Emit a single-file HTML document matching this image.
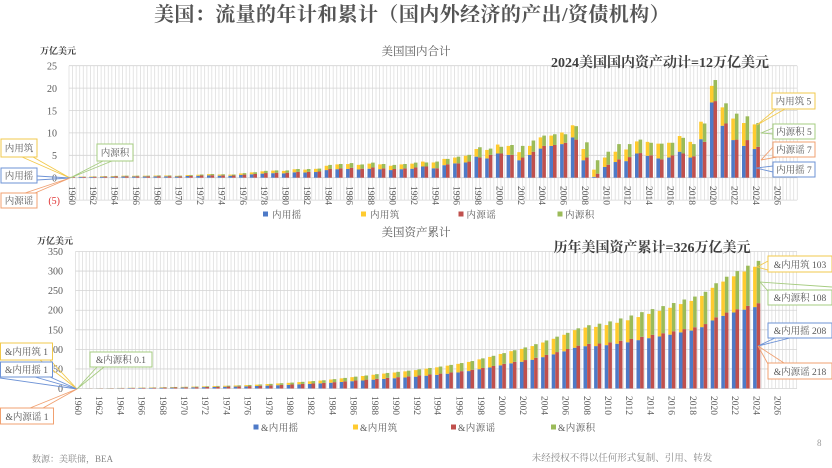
<!DOCTYPE html>
<html><head><meta charset="utf-8">
<style>
html,body{margin:0;padding:0;background:#fff;}
svg{display:block;}
text{font-family:"Liberation Serif","Noto Serif CJK SC",serif;fill:#595959;}
.yl text{font-size:9.5px;dominant-baseline:central;}
.ax{font-size:10px;text-anchor:end;}
.cl{font-size:9.5px;text-anchor:middle;}
.lg{font-size:9.5px;letter-spacing:0.4px;}
</style></head>
<body>
<svg id="s" width="832" height="468" viewBox="0 0 832 468" xmlns="http://www.w3.org/2000/svg">
<g id="grid"></g>
<g id="bars"></g>

<!-- Title -->
<text x="412" y="21" text-anchor="middle" style="font-size:20px;font-weight:bold;fill:#555;letter-spacing:0.4px;">美国：流量的年计和累计（国内外经济的产出/资债机构）</text>

<!-- Top chart texts -->
<text x="40" y="54" style="font-size:9px;font-weight:bold;fill:#404040;">万亿美元</text>
<text x="416" y="55" text-anchor="middle" style="font-size:11.5px;">美国国内合计</text>
<text x="660" y="67" text-anchor="middle" style="font-size:14px;font-weight:bold;fill:#404040;">2024美国国内资产动计=12万亿美元</text>

<g class="ax">
<text x="57" y="69.5">25</text>
<text x="57" y="91.9">20</text>
<text x="57" y="114.3">15</text>
<text x="57" y="136.7">10</text>
<text x="57" y="159.1">5</text>
<text x="57" y="181.5">0</text>
<text x="60" y="203.9" style="fill:#e03030;">(5)</text>
</g>

<g class="yl">
<text transform="translate(70.8,186) rotate(90)">1960</text>
<text transform="translate(92.2,186) rotate(90)">1962</text>
<text transform="translate(113.6,186) rotate(90)">1964</text>
<text transform="translate(134.9,186) rotate(90)">1966</text>
<text transform="translate(156.3,186) rotate(90)">1968</text>
<text transform="translate(177.7,186) rotate(90)">1970</text>
<text transform="translate(199.1,186) rotate(90)">1972</text>
<text transform="translate(220.5,186) rotate(90)">1974</text>
<text transform="translate(241.8,186) rotate(90)">1976</text>
<text transform="translate(263.2,186) rotate(90)">1978</text>
<text transform="translate(284.6,186) rotate(90)">1980</text>
<text transform="translate(306.0,186) rotate(90)">1982</text>
<text transform="translate(327.4,186) rotate(90)">1984</text>
<text transform="translate(348.7,186) rotate(90)">1986</text>
<text transform="translate(370.1,186) rotate(90)">1988</text>
<text transform="translate(391.5,186) rotate(90)">1990</text>
<text transform="translate(412.9,186) rotate(90)">1992</text>
<text transform="translate(434.3,186) rotate(90)">1994</text>
<text transform="translate(455.6,186) rotate(90)">1996</text>
<text transform="translate(477.0,186) rotate(90)">1998</text>
<text transform="translate(498.4,186) rotate(90)">2000</text>
<text transform="translate(519.8,186) rotate(90)">2002</text>
<text transform="translate(541.2,186) rotate(90)">2004</text>
<text transform="translate(562.5,186) rotate(90)">2006</text>
<text transform="translate(583.9,186) rotate(90)">2008</text>
<text transform="translate(605.3,186) rotate(90)">2010</text>
<text transform="translate(626.7,186) rotate(90)">2012</text>
<text transform="translate(648.1,186) rotate(90)">2014</text>
<text transform="translate(669.4,186) rotate(90)">2016</text>
<text transform="translate(690.8,186) rotate(90)">2018</text>
<text transform="translate(712.2,186) rotate(90)">2020</text>
<text transform="translate(733.6,186) rotate(90)">2022</text>
<text transform="translate(755.0,186) rotate(90)">2024</text>
<text transform="translate(776.3,186) rotate(90)">2026</text>
</g>

<!-- Top legend -->
<rect x="263" y="211.5" width="5" height="5" fill="#4E7AC7"/>
<text class="lg" x="272" y="218">内用摇</text>
<rect x="361" y="211.5" width="5" height="5" fill="#FFCB2F"/>
<text class="lg" x="370" y="218">内用筑</text>
<rect x="458.5" y="211.5" width="5" height="5" fill="#C0504D"/>
<text class="lg" x="466.5" y="218">内源谣</text>
<rect x="557.5" y="211.5" width="5" height="5" fill="#9BBB59"/>
<text class="lg" x="565" y="218">内源积</text>

<!-- Top left callouts -->
<g fill="none" stroke-width="0.9">
<path d="M22 157 L70 178 M33 157 L70 178" stroke="#F2C94C"/>
<path d="M37 176 L70 178 M37 180 L70 178" stroke="#6E93D6"/>
<path d="M25 193 L70 178 M35 193 L70 178" stroke="#F0A070"/>
<path d="M103 161 L70 178 M112 161 L70 178" stroke="#A6CC80"/>
</g>
<rect x="1" y="139" width="36" height="18" fill="#fff" stroke="#F2C94C"/>
<text class="cl" x="19" y="151.5">内用筑</text>
<rect x="1" y="168" width="36" height="15" fill="#fff" stroke="#6E93D6"/>
<text class="cl" x="19" y="179">内用摇</text>
<rect x="1" y="193" width="36" height="15" fill="#fff" stroke="#F0A070"/>
<text class="cl" x="19" y="204">内源谣</text>
<rect x="97" y="144" width="36" height="17" fill="#fff" stroke="#A6CC80"/>
<text class="cl" x="115" y="156">内源积</text>

<!-- Top right callouts -->
<g fill="none" stroke-width="0.9">
<path d="M776 109 L757 125 M785 109 L757 125" stroke="#F2C94C"/>
<path d="M773 128 L761 133 M773 134 L761 133" stroke="#A6CC80"/>
<path d="M773 147 L761 160 M777 157 L761 160" stroke="#F0A070"/>
<path d="M773 166 L756 168 M773 172 L756 168" stroke="#6E93D6"/>
</g>
<rect x="772" y="93" width="43" height="16" fill="#fff" stroke="#F2C94C"/>
<text class="cl" x="793.5" y="104.5">内用筑 5</text>
<rect x="773" y="124" width="42" height="15" fill="#fff" stroke="#A6CC80"/>
<text class="cl" x="794" y="135">内源积 5</text>
<rect x="773" y="142" width="42" height="15" fill="#fff" stroke="#F0A070"/>
<text class="cl" x="794" y="153">内源谣 7</text>
<rect x="773" y="162" width="42" height="15" fill="#fff" stroke="#6E93D6"/>
<text class="cl" x="794" y="173">内用摇 7</text>

<!-- Bottom chart texts -->
<text x="37" y="244" style="font-size:9px;font-weight:bold;fill:#404040;">万亿美元</text>
<text x="416" y="236" text-anchor="middle" style="font-size:11.5px;">美国资产累计</text>
<text x="652" y="252" text-anchor="middle" style="font-size:14px;font-weight:bold;fill:#404040;">历年美国资产累计=326万亿美元</text>

<g class="ax">
<text x="63" y="255">350</text>
<text x="63" y="274.6">300</text>
<text x="63" y="294.2">250</text>
<text x="63" y="313.7">200</text>
<text x="63" y="333.3">150</text>
<text x="63" y="352.9">100</text>
<text x="63" y="372.5">50</text>
<text x="63" y="392">0</text>
</g>

<g class="yl">
<text transform="translate(77,396) rotate(90)">1960</text>
<text transform="translate(98.2,396) rotate(90)">1962</text>
<text transform="translate(119.4,396) rotate(90)">1964</text>
<text transform="translate(140.6,396) rotate(90)">1966</text>
<text transform="translate(161.8,396) rotate(90)">1968</text>
<text transform="translate(183,396) rotate(90)">1970</text>
<text transform="translate(204.2,396) rotate(90)">1972</text>
<text transform="translate(225.4,396) rotate(90)">1974</text>
<text transform="translate(246.6,396) rotate(90)">1976</text>
<text transform="translate(267.8,396) rotate(90)">1978</text>
<text transform="translate(289,396) rotate(90)">1980</text>
<text transform="translate(310.2,396) rotate(90)">1982</text>
<text transform="translate(331.4,396) rotate(90)">1984</text>
<text transform="translate(352.6,396) rotate(90)">1986</text>
<text transform="translate(373.8,396) rotate(90)">1988</text>
<text transform="translate(395,396) rotate(90)">1990</text>
<text transform="translate(416.2,396) rotate(90)">1992</text>
<text transform="translate(436.4,396) rotate(90)">1994</text>
<text transform="translate(458.6,396) rotate(90)">1996</text>
<text transform="translate(479.8,396) rotate(90)">1998</text>
<text transform="translate(501,396) rotate(90)">2000</text>
<text transform="translate(522.2,396) rotate(90)">2002</text>
<text transform="translate(543.4,396) rotate(90)">2004</text>
<text transform="translate(564.6,396) rotate(90)">2006</text>
<text transform="translate(585.8,396) rotate(90)">2008</text>
<text transform="translate(607,396) rotate(90)">2010</text>
<text transform="translate(628.2,396) rotate(90)">2012</text>
<text transform="translate(649.4,396) rotate(90)">2014</text>
<text transform="translate(670.6,396) rotate(90)">2016</text>
<text transform="translate(691.8,396) rotate(90)">2018</text>
<text transform="translate(713,396) rotate(90)">2020</text>
<text transform="translate(734.2,396) rotate(90)">2022</text>
<text transform="translate(755.4,396) rotate(90)">2024</text>
<text transform="translate(776.6,396) rotate(90)">2026</text>
</g>

<!-- Bottom legend -->
<rect x="253.5" y="424.5" width="5" height="5" fill="#4E7AC7"/>
<text class="lg" x="261" y="431">&amp;内用摇</text>
<rect x="353" y="424.5" width="5" height="5" fill="#FFCB2F"/>
<text class="lg" x="360" y="431">&amp;内用筑</text>
<rect x="451" y="424.5" width="5" height="5" fill="#C0504D"/>
<text class="lg" x="458" y="431">&amp;内源谣</text>
<rect x="551" y="424.5" width="5" height="5" fill="#9BBB59"/>
<text class="lg" x="558" y="431">&amp;内源积</text>

<!-- Bottom left callouts -->
<g fill="none" stroke-width="0.9">
<path d="M40 360 L77 389 M50 360 L77 389" stroke="#F2C94C"/>
<path d="M35 377 L77 389 M50 377 L77 389 M0 378 L77 389" stroke="#6E93D6"/>
<path d="M97 367 L77 389 M104 367 L77 389" stroke="#A6CC80"/>
<path d="M30 408 L77 389 M43 408 L77 389" stroke="#F0A070"/>
</g>
<rect x="0.5" y="343" width="52" height="17" fill="#fff" stroke="#F2C94C"/>
<text class="cl" x="26.5" y="355">&amp;内用筑 1</text>
<rect x="0.5" y="362" width="52" height="15" fill="#fff" stroke="#6E93D6"/>
<text class="cl" x="26.5" y="373">&amp;内用摇 1</text>
<rect x="90" y="352" width="62" height="15" fill="#fff" stroke="#A6CC80"/>
<text class="cl" x="121" y="363">&amp;内源积 0.1</text>
<rect x="0.5" y="408" width="53" height="16" fill="#fff" stroke="#F0A070"/>
<text class="cl" x="27" y="420">&amp;内源谣 1</text>

<!-- Bottom right callouts -->
<g fill="none" stroke-width="0.9">
<path d="M768 261 L757 267 M768 270 L757 267" stroke="#F2C94C"/>
<path d="M760 282 L832 287 M760 282 L768 291" stroke="#A6CC80"/>
<path d="M758 346 L790 338 M758 346 L775 338" stroke="#6E93D6"/>
<path d="M758 346 L768 364 M758 346 L784 363" stroke="#F0A070"/>
</g>
<rect x="768" y="256" width="64" height="16" fill="#fff" stroke="#F2C94C"/>
<text class="cl" x="800" y="268">&amp;内用筑 103</text>
<rect x="768" y="290" width="64" height="15" fill="#fff" stroke="#A6CC80"/>
<text class="cl" x="800" y="301">&amp;内源积 108</text>
<rect x="768" y="323" width="64" height="15" fill="#fff" stroke="#6E93D6"/>
<text class="cl" x="800" y="334">&amp;内用摇 208</text>
<rect x="768" y="363" width="64" height="16" fill="#fff" stroke="#F0A070"/>
<text class="cl" x="800" y="375">&amp;内源谣 218</text>

<!-- Footer -->
<text x="32" y="462" style="font-size:9px;fill:#888;">数源：美联储，BEA</text>
<text x="622" y="461" text-anchor="middle" style="font-size:9.5px;fill:#888;">未经授权不得以任何形式复制、引用、转发</text>
<text x="817" y="446" style="font-size:9px;fill:#999;">8</text>
</svg>

<script>
(function(){
var NS="http://www.w3.org/2000/svg";
var grid=document.getElementById('grid'), bars=document.getElementById('bars');
function rect(g,x,y,w,h,f){ if(h<=0.01) return; var r=document.createElementNS(NS,'rect');
 r.setAttribute('x',x.toFixed(2)); r.setAttribute('y',y.toFixed(2)); r.setAttribute('width',w.toFixed(2)); r.setAttribute('height',h.toFixed(2)); r.setAttribute('fill',f); g.appendChild(r);}
function line(g,x1,y1,x2,y2,c,w){var l=document.createElementNS(NS,'line');
 l.setAttribute('x1',x1.toFixed(2));l.setAttribute('y1',y1.toFixed(2));l.setAttribute('x2',x2.toFixed(2));l.setAttribute('y2',y2.toFixed(2));
 l.setAttribute('stroke',c);l.setAttribute('stroke-width',w);g.appendChild(l);}

// grids
var x;
for(x=69;x<=797.5;x+=3.57) line(grid,x,65.7,x,200.1,'#dedede',0.8);
for(var v=25;v>=-5;v-=5){var y=177.7-4.48*v; line(grid,69,y,797,y,'#d4d4d4',0.8);}
for(x=75.5;x<=797.5;x+=3.535) line(grid,x,251.5,x,388.5,'#dedede',0.8);
for(var v2=0;v2<=350;v2+=50){var y2=388.5-0.3914*v2; line(grid,75.5,y2,797,y2,'#d4d4d4',0.8);}

// data
var T=[0.2,0.25,0.3,0.35,0.4,0.45,0.45,0.45,0.5,0.5,0.45,0.6,0.7,0.8,0.75,0.7,1.0,1.2,1.5,1.6,1.6,1.9,1.9,2.0,2.8,3.0,3.2,2.9,3.3,3.0,2.8,3.0,3.3];
var data=[];
for(var i=0;i<T.length;i++){var t=T[i];var f=(i%2?1.02:0.98);var L=t*0.97*f,R=t*1.02;data.push([L,L*0.64,R,R*0.68]);}
var late=[[3.6,2.5,3.4,2.5],[3.4,2.1,3.6,2.1],[4.2,2.8,4.2,3.0],[4.5,3.2,4.7,3.2],[4.9,3.4,5.1,3.6],
[6.4,4.7,6.8,4.5],[6.2,4.3,6.5,5.1],[7.4,5.4,6.9,5.4],[7.1,5.1,7.3,5.1],[5.7,3.9,7.1,4.5],
[7.1,5.1,8.3,5.8],[9.0,6.5,9.4,7.1],[9.4,7.1,9.7,7.3],[10.1,7.5,9.7,7.8],[11.7,9.0,11.5,8.5],
[6.4,3.9,7.9,4.5],[1.8,0.2,3.9,0.9],[4.5,2.4,5.8,2.9],[5.8,3.5,7.5,4.1],[6.3,3.7,7.5,4.6],
[8.1,5.4,8.5,5.5],[8.0,4.9,7.8,5.0],[7.6,4.3,7.6,4.1],[7.8,4.5,7.8,5.0],[9.3,5.8,8.9,5.4],
[8.0,4.5,7.5,4.8],[12.5,8.6,12.1,8.0],[20.5,16.8,21.8,17.1],[15.7,11.6,16.6,12.1],[13.2,8.4,14.3,8.5],
[12.2,7.1,13.7,8.4],[11.9,6.4,12.2,6.9]];
data=data.concat(late);

var BL='#4E7AC7',YE='#FFCB2F',RD='#C0504D',GR='#9BBB59';
var bw=3.6;
// top chart
var z=177.7,s=4.48;
for(var k=0;k<data.length;k++){
 var d=data[k], c=71.5+10.7*k;
 rect(bars,c-bw,z-d[1]*s,bw,d[1]*s,BL);
 rect(bars,c-bw,z-d[0]*s,bw,(d[0]-d[1])*s,YE);
 rect(bars,c,z-d[3]*s,bw,d[3]*s,RD);
 rect(bars,c,z-d[2]*s,bw,(d[2]-d[3])*s,GR);
}
// bottom chart: cumulative, scaled
var cum=[],a=[0,0,0,0];
for(k=0;k<data.length;k++){for(var j=0;j<4;j++)a[j]+=data[k][j];cum.push(a.slice());}
var tgt=[311,208,326,218],sc=[];
for(j=0;j<4;j++)sc[j]=tgt[j]/a[j];
var z2=388.5,s2=0.3914;
for(k=0;k<cum.length;k++){
 var e=[cum[k][0]*sc[0],cum[k][1]*sc[1],cum[k][2]*sc[2],cum[k][3]*sc[3]], c2=78.3+10.6*k;
 rect(bars,c2-bw,z2-e[1]*s2,bw,e[1]*s2,BL);
 rect(bars,c2-bw,z2-e[0]*s2,bw,(e[0]-e[1])*s2,YE);
 rect(bars,c2,z2-e[3]*s2,bw,e[3]*s2,RD);
 rect(bars,c2,z2-e[2]*s2,bw,(e[2]-e[3])*s2,GR);
}
})();
</script>
</body></html>
